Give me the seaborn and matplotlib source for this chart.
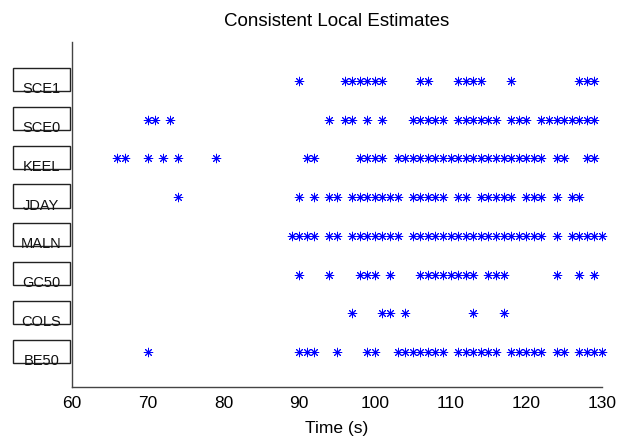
import numpy as np
import pandas as pd
import seaborn as sns
import matplotlib.pyplot as plt
import matplotlib.transforms as mtrans
from matplotlib.patches import Rectangle

# Stations, bottom row first
stations = ["BE50", "COLS", "GC50", "MALN", "JDAY", "KEEL", "SCE0", "SCE1"]

# Times (s) at which each station gives a consistent local estimate
be50 = [70, 90, 91, 92, 95, 99, 100, 103, 104, 105, 106, 107, 108, 109,
        111, 112, 113, 114, 115, 116, 118, 119, 120, 121, 122, 124, 125,
        127, 128, 129, 130]
cols = [97, 101, 102, 104, 113, 117]
gc50 = [90, 94, 98, 99, 100, 102, 106, 107, 108, 109, 110, 111, 112, 113,
        115, 116, 117, 124, 127, 129]
maln = [89, 90, 91, 92, 94, 95, 97, 98, 99, 100, 101, 102, 103, 105, 106,
        107, 108, 109, 110, 111, 112, 113, 114, 115, 116, 117, 118, 119, 120,
        121, 122, 124, 126, 127, 128, 129, 130]
jday = [74, 90, 92, 94, 95, 97, 98, 99, 100, 101, 102, 103, 105, 106, 107,
        108, 109, 111, 112, 114, 115, 116, 117, 118, 120, 121, 122, 124, 126,
        127]
keel = [66, 67, 70, 72, 74, 79, 91, 92, 98, 99, 100, 101, 103, 104, 105,
        106, 107, 108, 109, 110, 111, 112, 113, 114, 115, 116, 117, 118, 119,
        120, 121, 122, 124, 125, 128, 129]
sce0 = [70, 71, 73, 94, 96, 97, 99, 101, 105, 106, 107, 108, 109, 111, 112,
        113, 114, 115, 116, 118, 119, 120, 122, 123, 124, 125, 126, 127, 128,
        129]
sce1 = [90, 96, 97, 98, 99, 100, 101, 106, 107, 111, 112, 113, 114, 118,
        127, 128, 129]

x_ticks = [60, 70, 80, 90, 100, 110, 120, 130]

series = [be50, cols, gc50, maln, jday, keel, sce0, sce1]
rows = []
for k, (name, times) in enumerate(zip(stations, series)):
    for t in times:
        rows.append({"time": t, "station": name, "row": k + 1})
df = pd.DataFrame(rows)

sns.set_style("white")
plt.rcParams["font.family"] = ["Liberation Sans", "DejaVu Sans"]
plt.rcParams["text.color"] = "black"
plt.rcParams["axes.labelcolor"] = "black"

fig, ax = plt.subplots(figsize=(6.17, 4.39), dpi=100)
fig.subplots_adjust(left=72 / 617, right=602 / 617,
                    bottom=1 - 388 / 439, top=1 - 43 / 439)

sns.scatterplot(data=df, x="time", y="row", marker=(8, 2, 0), s=38,
                color="blue", edgecolor="blue", linewidth=0.7,
                legend=False, ax=ax, clip_on=False, zorder=3)

ax.set_xlim(60, 130)
ax.set_ylim(0.1, 9.0)
ax.set_xticks(x_ticks)
ax.set_xticklabels([str(v) for v in x_ticks], fontsize=12.5)
ax.set_yticks(range(1, len(stations) + 1))
ax.set_yticklabels([])

for side in ("top", "right"):
    ax.spines[side].set_visible(False)
for side in ("left", "bottom"):
    ax.spines[side].set_color("#444444")
    ax.spines[side].set_linewidth(1.0)

ax.tick_params(axis="x", direction="in", length=4, width=0.8,
               color="#444444", pad=6, labelcolor="black")
ax.tick_params(axis="y", direction="in", length=4, width=0.8,
               color="#444444", labelleft=False)

ax.set_xlabel("Time (s)", fontsize=12.5, labelpad=7, color="black")
ax.set_ylabel("")
ax.set_title("Consistent Local Estimates", fontsize=13.5, pad=12,
             color="black")

# Boxed station names to the left of the axis
trans = mtrans.blended_transform_factory(ax.transAxes, ax.transData)
box_x, box_w = -0.112, 0.108
for k, name in enumerate(stations):
    y = k + 1
    rect = Rectangle((box_x, y - 0.275), box_w, 0.60, transform=trans,
                     facecolor="white", edgecolor="#222222", linewidth=1.0,
                     clip_on=False, zorder=2)
    ax.add_patch(rect)
    txt = ax.text(box_x + box_w / 2, y - 0.30, name, transform=trans,
                  ha="center", va="baseline", fontsize=10.5,
                  color="#111111", zorder=3)
    txt.set_clip_path(rect)

fig.savefig("out.png", dpi=100)
